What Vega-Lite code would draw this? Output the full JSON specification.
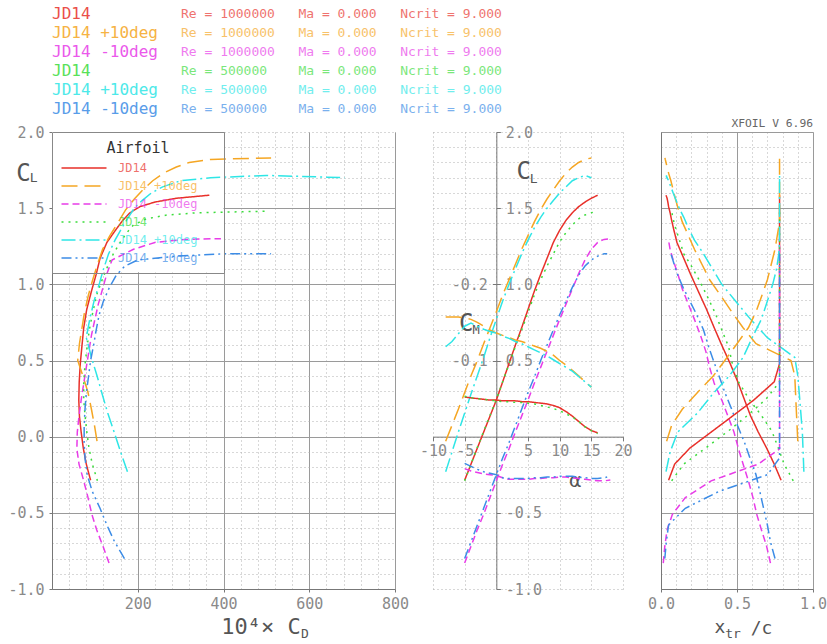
{
  "$schema": "https://vega.github.io/schema/vega-lite/v6.json",
  "background": "white",
  "padding": {"left": 7, "top": 6, "right": 0, "bottom": 0},
  "config": {
    "view": {"stroke": null},
    "font": "DejaVu Sans Mono",
    "axis": {"labelFont": "DejaVu Sans Mono", "labelFontSize": 15, "labelColor": "#8a8a8a", "labelOverlap": false, "labelFlush": false, "titleFont": "DejaVu Sans Mono", "titleColor": "#555555", "titleFontWeight": "normal", "domainColor": "#777777", "tickColor": "#777777", "gridColor": "#9a9a9a", "gridWidth": 1}
  },
  "datasets": {
    "head": [
      {"k": "1", "name": "JD14", "params": "Re = 1000000\u00a0\u00a0\u00a0Ma = 0.000\u00a0\u00a0\u00a0Ncrit = 9.000"},
      {"k": "2", "name": "JD14 +10deg", "params": "Re = 1000000\u00a0\u00a0\u00a0Ma = 0.000\u00a0\u00a0\u00a0Ncrit = 9.000"},
      {"k": "3", "name": "JD14 -10deg", "params": "Re = 1000000\u00a0\u00a0\u00a0Ma = 0.000\u00a0\u00a0\u00a0Ncrit = 9.000"},
      {"k": "4", "name": "JD14", "params": "Re = 500000\u00a0\u00a0\u00a0\u00a0Ma = 0.000\u00a0\u00a0\u00a0Ncrit = 9.000"},
      {"k": "5", "name": "JD14 +10deg", "params": "Re = 500000\u00a0\u00a0\u00a0\u00a0Ma = 0.000\u00a0\u00a0\u00a0Ncrit = 9.000"},
      {"k": "6", "name": "JD14 -10deg", "params": "Re = 500000\u00a0\u00a0\u00a0\u00a0Ma = 0.000\u00a0\u00a0\u00a0Ncrit = 9.000"}
    ],
    "polar": [
      {"k":"1","a":-5,"CL":-0.286,"CD":90,"CM":-0.052,"xt":0.79,"xb":0.05},
      {"k":"1","a":-4,"CL":-0.18,"CD":80,"CM":-0.051,"xt":0.745,"xb":0.09},
      {"k":"1","a":-3,"CL":-0.075,"CD":73,"CM":-0.05,"xt":0.695,"xb":0.19},
      {"k":"1","a":-2,"CL":0.03,"CD":68,"CM":-0.049,"xt":0.64,"xb":0.33},
      {"k":"1","a":-1,"CL":0.135,"CD":64,"CM":-0.048,"xt":0.59,"xb":0.47},
      {"k":"1","a":0,"CL":0.24,"CD":62.5,"CM":-0.048,"xt":0.55,"xb":0.61},
      {"k":"1","a":1,"CL":0.36,"CD":63.5,"CM":-0.047,"xt":0.505,"xb":0.745},
      {"k":"1","a":2,"CL":0.48,"CD":66,"CM":-0.047,"xt":0.455,"xb":0.78},
      {"k":"1","a":3,"CL":0.6,"CD":70,"CM":-0.047,"xt":0.4,"xb":0.78},
      {"k":"1","a":4,"CL":0.715,"CD":74,"CM":-0.046,"xt":0.35,"xb":0.78},
      {"k":"1","a":5,"CL":0.835,"CD":81,"CM":-0.046,"xt":0.3,"xb":0.78},
      {"k":"1","a":6,"CL":0.955,"CD":92,"CM":-0.045,"xt":0.245,"xb":0.78},
      {"k":"1","a":7,"CL":1.065,"CD":103,"CM":-0.044,"xt":0.195,"xb":0.78},
      {"k":"1","a":8,"CL":1.17,"CD":112,"CM":-0.043,"xt":0.15,"xb":0.78},
      {"k":"1","a":9,"CL":1.275,"CD":128,"CM":-0.041,"xt":0.105,"xb":0.78},
      {"k":"1","a":10,"CL":1.355,"CD":148,"CM":-0.038,"xt":0.085,"xb":0.78},
      {"k":"1","a":11,"CL":1.42,"CD":165,"CM":-0.033,"xt":0.07,"xb":0.78},
      {"k":"1","a":12,"CL":1.47,"CD":182,"CM":-0.027,"xt":0.06,"xb":0.78},
      {"k":"1","a":13,"CL":1.51,"CD":205,"CM":-0.02,"xt":0.05,"xb":0.78},
      {"k":"1","a":14,"CL":1.54,"CD":240,"CM":-0.013,"xt":0.045,"xb":0.78},
      {"k":"1","a":15,"CL":1.565,"CD":290,"CM":-0.008,"xt":0.04,"xb":0.78},
      {"k":"1","a":16,"CL":1.585,"CD":367,"CM":-0.005,"xt":0.033,"xb":0.78},

      {"k":"2","a":-8,"CL":-0.03,"CD":105,"CM":-0.157,"xt":0.9,"xb":0.037},
      {"k":"2","a":-7,"CL":0.075,"CD":99,"CM":-0.157,"xt":0.895,"xb":0.07},
      {"k":"2","a":-6,"CL":0.18,"CD":92,"CM":-0.157,"xt":0.89,"xb":0.14},
      {"k":"2","a":-5,"CL":0.29,"CD":84,"CM":-0.156,"xt":0.885,"xb":0.24},
      {"k":"2","a":-4,"CL":0.4,"CD":72,"CM":-0.154,"xt":0.88,"xb":0.345},
      {"k":"2","a":-3,"CL":0.5,"CD":60,"CM":-0.15,"xt":0.855,"xb":0.42},
      {"k":"2","a":-2,"CL":0.61,"CD":64,"CM":-0.145,"xt":0.625,"xb":0.5},
      {"k":"2","a":-1,"CL":0.715,"CD":70,"CM":-0.14,"xt":0.54,"xb":0.575},
      {"k":"2","a":0,"CL":0.82,"CD":76,"CM":-0.136,"xt":0.465,"xb":0.625},
      {"k":"2","a":1,"CL":0.93,"CD":85,"CM":-0.133,"xt":0.39,"xb":0.665},
      {"k":"2","a":2,"CL":1.03,"CD":95,"CM":-0.13,"xt":0.32,"xb":0.7},
      {"k":"2","a":3,"CL":1.13,"CD":106,"CM":-0.127,"xt":0.27,"xb":0.725},
      {"k":"2","a":4,"CL":1.23,"CD":118,"CM":-0.125,"xt":0.22,"xb":0.75},
      {"k":"2","a":5,"CL":1.32,"CD":135,"CM":-0.122,"xt":0.18,"xb":0.765},
      {"k":"2","a":6,"CL":1.41,"CD":155,"CM":-0.119,"xt":0.14,"xb":0.78},
      {"k":"2","a":7,"CL":1.49,"CD":172,"CM":-0.116,"xt":0.115,"xb":0.78},
      {"k":"2","a":8,"CL":1.56,"CD":192,"CM":-0.112,"xt":0.095,"xb":0.78},
      {"k":"2","a":9,"CL":1.62,"CD":212,"CM":-0.107,"xt":0.08,"xb":0.78},
      {"k":"2","a":10,"CL":1.68,"CD":235,"CM":-0.1,"xt":0.065,"xb":0.78},
      {"k":"2","a":11,"CL":1.73,"CD":260,"CM":-0.094,"xt":0.05,"xb":0.78},
      {"k":"2","a":12,"CL":1.77,"CD":290,"CM":-0.087,"xt":0.04,"xb":0.78},
      {"k":"2","a":13,"CL":1.8,"CD":320,"CM":-0.08,"xt":0.033,"xb":0.78},
      {"k":"2","a":14,"CL":1.82,"CD":370,"CM":-0.072,"xt":0.028,"xb":0.78},
      {"k":"2","a":15,"CL":1.83,"CD":511,"CM":-0.065,"xt":0.026,"xb":0.78},

      {"k":"3","a":-5,"CL":-0.83,"CD":133,"CM":0.042,"xt":0.72,"xb":0.015},
      {"k":"3","a":-4,"CL":-0.72,"CD":119,"CM":0.045,"xt":0.695,"xb":0.025},
      {"k":"3","a":-3,"CL":-0.61,"CD":104,"CM":0.047,"xt":0.66,"xb":0.04},
      {"k":"3","a":-2,"CL":-0.51,"CD":93,"CM":0.049,"xt":0.63,"xb":0.075},
      {"k":"3","a":-1,"CL":-0.4,"CD":84,"CM":0.05,"xt":0.605,"xb":0.16},
      {"k":"3","a":0,"CL":-0.29,"CD":74,"CM":0.051,"xt":0.575,"xb":0.33},
      {"k":"3","a":1,"CL":-0.18,"CD":63,"CM":0.054,"xt":0.54,"xb":0.64},
      {"k":"3","a":2,"CL":-0.08,"CD":58,"CM":0.056,"xt":0.51,"xb":0.78},
      {"k":"3","a":3,"CL":0.03,"CD":59,"CM":0.056,"xt":0.48,"xb":0.78},
      {"k":"3","a":4,"CL":0.135,"CD":63,"CM":0.056,"xt":0.44,"xb":0.78},
      {"k":"3","a":5,"CL":0.24,"CD":68,"CM":0.056,"xt":0.4,"xb":0.78},
      {"k":"3","a":6,"CL":0.35,"CD":74,"CM":0.055,"xt":0.35,"xb":0.78},
      {"k":"3","a":7,"CL":0.455,"CD":80,"CM":0.055,"xt":0.32,"xb":0.78},
      {"k":"3","a":8,"CL":0.56,"CD":86,"CM":0.054,"xt":0.295,"xb":0.78},
      {"k":"3","a":9,"CL":0.665,"CD":92,"CM":0.054,"xt":0.26,"xb":0.78},
      {"k":"3","a":10,"CL":0.77,"CD":100,"CM":0.053,"xt":0.22,"xb":0.78},
      {"k":"3","a":11,"CL":0.87,"CD":108,"CM":0.053,"xt":0.18,"xb":0.78},
      {"k":"3","a":12,"CL":0.97,"CD":118,"CM":0.054,"xt":0.14,"xb":0.78},
      {"k":"3","a":13,"CL":1.07,"CD":128,"CM":0.055,"xt":0.11,"xb":0.78},
      {"k":"3","a":14,"CL":1.16,"CD":140,"CM":0.056,"xt":0.08,"xb":0.78},
      {"k":"3","a":15,"CL":1.23,"CD":190,"CM":0.057,"xt":0.06,"xb":0.78},
      {"k":"3","a":16,"CL":1.275,"CD":240,"CM":0.058,"xt":0.052,"xb":0.78},
      {"k":"3","a":17,"CL":1.295,"CD":310,"CM":0.058,"xt":0.05,"xb":0.78},
      {"k":"3","a":18,"CL":1.3,"CD":394,"CM":0.057,"xt":0.048,"xb":0.78},

      {"k":"4","a":-5,"CL":-0.29,"CD":106,"CM":-0.053,"xt":0.87,"xb":0.07},
      {"k":"4","a":-4,"CL":-0.18,"CD":94,"CM":-0.051,"xt":0.81,"xb":0.15},
      {"k":"4","a":-3,"CL":-0.07,"CD":86,"CM":-0.05,"xt":0.77,"xb":0.3},
      {"k":"4","a":-2,"CL":0.035,"CD":81,"CM":-0.049,"xt":0.73,"xb":0.44},
      {"k":"4","a":-1,"CL":0.14,"CD":77,"CM":-0.048,"xt":0.66,"xb":0.57},
      {"k":"4","a":0,"CL":0.245,"CD":74,"CM":-0.047,"xt":0.58,"xb":0.69},
      {"k":"4","a":1,"CL":0.36,"CD":74,"CM":-0.046,"xt":0.51,"xb":0.78},
      {"k":"4","a":2,"CL":0.475,"CD":77,"CM":-0.046,"xt":0.47,"xb":0.78},
      {"k":"4","a":3,"CL":0.59,"CD":82,"CM":-0.045,"xt":0.445,"xb":0.78},
      {"k":"4","a":4,"CL":0.7,"CD":87,"CM":-0.045,"xt":0.4,"xb":0.78},
      {"k":"4","a":5,"CL":0.815,"CD":95,"CM":-0.044,"xt":0.355,"xb":0.78},
      {"k":"4","a":6,"CL":0.93,"CD":104,"CM":-0.043,"xt":0.3,"xb":0.78},
      {"k":"4","a":7,"CL":1.03,"CD":117,"CM":-0.041,"xt":0.25,"xb":0.78},
      {"k":"4","a":8,"CL":1.12,"CD":130,"CM":-0.039,"xt":0.2,"xb":0.78},
      {"k":"4","a":9,"CL":1.2,"CD":143,"CM":-0.037,"xt":0.15,"xb":0.78},
      {"k":"4","a":10,"CL":1.28,"CD":160,"CM":-0.034,"xt":0.125,"xb":0.78},
      {"k":"4","a":11,"CL":1.34,"CD":175,"CM":-0.03,"xt":0.105,"xb":0.78},
      {"k":"4","a":12,"CL":1.39,"CD":190,"CM":-0.026,"xt":0.09,"xb":0.78},
      {"k":"4","a":13,"CL":1.43,"CD":220,"CM":-0.02,"xt":0.08,"xb":0.78},
      {"k":"4","a":14,"CL":1.455,"CD":268,"CM":-0.013,"xt":0.075,"xb":0.78},
      {"k":"4","a":15,"CL":1.47,"CD":340,"CM":-0.008,"xt":0.072,"xb":0.78},
      {"k":"4","a":16,"CL":1.48,"CD":499,"CM":-0.004,"xt":0.07,"xb":0.78},

      {"k":"5","a":-8,"CL":-0.23,"CD":176,"CM":-0.118,"xt":0.94,"xb":0.033},
      {"k":"5","a":-7,"CL":-0.1,"CD":160,"CM":-0.125,"xt":0.935,"xb":0.06},
      {"k":"5","a":-6,"CL":0.03,"CD":145,"CM":-0.135,"xt":0.93,"xb":0.11},
      {"k":"5","a":-5,"CL":0.155,"CD":130,"CM":-0.145,"xt":0.92,"xb":0.24},
      {"k":"5","a":-4,"CL":0.28,"CD":117,"CM":-0.149,"xt":0.91,"xb":0.34},
      {"k":"5","a":-3,"CL":0.4,"CD":105,"CM":-0.145,"xt":0.9,"xb":0.45},
      {"k":"5","a":-2,"CL":0.52,"CD":92,"CM":-0.141,"xt":0.88,"xb":0.54},
      {"k":"5","a":-1,"CL":0.65,"CD":80,"CM":-0.138,"xt":0.7,"xb":0.6},
      {"k":"5","a":0,"CL":0.77,"CD":88,"CM":-0.136,"xt":0.59,"xb":0.66},
      {"k":"5","a":1,"CL":0.89,"CD":98,"CM":-0.132,"xt":0.49,"xb":0.7},
      {"k":"5","a":2,"CL":1.0,"CD":110,"CM":-0.129,"xt":0.4,"xb":0.735},
      {"k":"5","a":3,"CL":1.1,"CD":120,"CM":-0.125,"xt":0.34,"xb":0.76},
      {"k":"5","a":4,"CL":1.2,"CD":132,"CM":-0.122,"xt":0.28,"xb":0.775},
      {"k":"5","a":5,"CL":1.29,"CD":147,"CM":-0.118,"xt":0.22,"xb":0.78},
      {"k":"5","a":6,"CL":1.37,"CD":163,"CM":-0.114,"xt":0.18,"xb":0.78},
      {"k":"5","a":7,"CL":1.44,"CD":178,"CM":-0.11,"xt":0.15,"xb":0.78},
      {"k":"5","a":8,"CL":1.5,"CD":192,"CM":-0.106,"xt":0.12,"xb":0.78},
      {"k":"5","a":9,"CL":1.55,"CD":210,"CM":-0.101,"xt":0.1,"xb":0.78},
      {"k":"5","a":10,"CL":1.6,"CD":232,"CM":-0.096,"xt":0.08,"xb":0.78},
      {"k":"5","a":11,"CL":1.64,"CD":258,"CM":-0.091,"xt":0.065,"xb":0.78},
      {"k":"5","a":12,"CL":1.68,"CD":300,"CM":-0.086,"xt":0.05,"xb":0.78},
      {"k":"5","a":13,"CL":1.7,"CD":370,"CM":-0.079,"xt":0.04,"xb":0.78},
      {"k":"5","a":14,"CL":1.715,"CD":500,"CM":-0.072,"xt":0.035,"xb":0.78},
      {"k":"5","a":15,"CL":1.7,"CD":682,"CM":-0.065,"xt":0.037,"xb":0.78},

      {"k":"6","a":-5,"CL":-0.8,"CD":169,"CM":0.035,"xt":0.75,"xb":0.025},
      {"k":"6","a":-4,"CL":-0.69,"CD":146,"CM":0.039,"xt":0.72,"xb":0.035},
      {"k":"6","a":-3,"CL":-0.58,"CD":128,"CM":0.043,"xt":0.7,"xb":0.05},
      {"k":"6","a":-2,"CL":-0.47,"CD":112,"CM":0.046,"xt":0.675,"xb":0.16},
      {"k":"6","a":-1,"CL":-0.36,"CD":94,"CM":0.048,"xt":0.65,"xb":0.38},
      {"k":"6","a":0,"CL":-0.25,"CD":82,"CM":0.05,"xt":0.625,"xb":0.7},
      {"k":"6","a":1,"CL":-0.14,"CD":77,"CM":0.054,"xt":0.585,"xb":0.78},
      {"k":"6","a":2,"CL":-0.04,"CD":75,"CM":0.055,"xt":0.55,"xb":0.78},
      {"k":"6","a":3,"CL":0.07,"CD":75,"CM":0.055,"xt":0.505,"xb":0.78},
      {"k":"6","a":4,"CL":0.18,"CD":77,"CM":0.055,"xt":0.465,"xb":0.78},
      {"k":"6","a":5,"CL":0.29,"CD":80,"CM":0.055,"xt":0.42,"xb":0.78},
      {"k":"6","a":6,"CL":0.39,"CD":85,"CM":0.054,"xt":0.385,"xb":0.78},
      {"k":"6","a":7,"CL":0.5,"CD":90,"CM":0.054,"xt":0.345,"xb":0.78},
      {"k":"6","a":8,"CL":0.6,"CD":97,"CM":0.053,"xt":0.31,"xb":0.78},
      {"k":"6","a":9,"CL":0.7,"CD":103,"CM":0.053,"xt":0.28,"xb":0.78},
      {"k":"6","a":10,"CL":0.8,"CD":110,"CM":0.052,"xt":0.235,"xb":0.78},
      {"k":"6","a":11,"CL":0.89,"CD":120,"CM":0.052,"xt":0.19,"xb":0.78},
      {"k":"6","a":12,"CL":0.98,"CD":134,"CM":0.052,"xt":0.145,"xb":0.78},
      {"k":"6","a":13,"CL":1.06,"CD":150,"CM":0.053,"xt":0.11,"xb":0.78},
      {"k":"6","a":14,"CL":1.12,"CD":170,"CM":0.054,"xt":0.09,"xb":0.78},
      {"k":"6","a":15,"CL":1.16,"CD":200,"CM":0.055,"xt":0.078,"xb":0.78},
      {"k":"6","a":16,"CL":1.185,"CD":290,"CM":0.055,"xt":0.07,"xb":0.78},
      {"k":"6","a":17,"CL":1.2,"CD":400,"CM":0.054,"xt":0.065,"xb":0.78},
      {"k":"6","a":17.5,"CL":1.2,"CD":511,"CM":0.053,"xt":0.065,"xb":0.78}
    ]
  },
  "bounds": "flush",
  "spacing": 23,
  "resolve": {"legend": {"color": "independent", "strokeDash": "independent"}},
  "vconcat": [
    {
      "width": 129,
      "height": 95,
      "data": {"name": "head"},
      "transform": [{"fold": ["name", "params"], "as": ["part", "txt"]}],
      "encoding": {
        "x": {"field": "part", "type": "nominal", "scale": {"type": "point", "padding": 0, "domain": ["name", "params"]}, "axis": null},
        "y": {"field": "k", "type": "ordinal", "scale": {"type": "point", "padding": 0, "domain": ["1","2","3","4","5","6"]}, "axis": null},
        "color": {"field": "k", "type": "nominal", "scale": {"domain": ["1","2","3","4","5","6"], "range": ["#e8302a","#f5a623","#e83ce8","#3cdc3c","#2ee6e6","#3c8ce6"]}, "legend": null},
        "text": {"field": "txt", "type": "nominal"}
      },
      "layer": [
        {"transform": [{"filter": "datum.part == 'name'"}], "mark": {"type": "text", "align": "left", "baseline": "middle", "fontSize": 16, "font": "DejaVu Sans Mono", "opacity": 0.85}},
        {"transform": [{"filter": "datum.part == 'params'"}], "mark": {"type": "text", "align": "left", "baseline": "middle", "fontSize": 13, "font": "DejaVu Sans Mono", "opacity": 0.68}}
      ]
    },
    {
      "bounds": "flush",
      "spacing": 38,
      "resolve": {"legend": {"color": "independent", "strokeDash": "independent"}},
      "hconcat": [
        {
          "width": 343,
          "height": 457,
          "data": {"name": "polar"},
          "resolve": {"axis": {"x": "independent", "y": "independent"}},
          "layer": [
            {
              "mark": {"type": "point", "opacity": 0},
              "encoding": {
                "x": {"field": "CD", "type": "quantitative", "scale": {"domain": [0, 800], "nice": false, "zero": false},
                  "axis": {"orient": "bottom", "grid": true, "gridDash": [1, 3], "gridColor": "#b0b0b0", "values": [0,40,80,120,160,200,240,280,320,360,400,440,480,520,560,600,640,680,720,760,800], "labels": false, "ticks": false, "domain": false,
                    "title": "D", "titleFontSize": 13, "titleX": 252.5, "titleY": 48, "titleAlign": "center", "titleBaseline": "alphabetic"}},
                "y": {"field": "CL", "type": "quantitative", "scale": {"domain": [-1, 2], "nice": false, "zero": false},
                  "axis": {"orient": "left", "grid": true, "gridDash": [1, 3], "gridColor": "#b0b0b0", "values": [-1,-0.9,-0.8,-0.7,-0.6,-0.5,-0.4,-0.3,-0.2,-0.1,0,0.1,0.2,0.3,0.4,0.5,0.6,0.7,0.8,0.9,1,1.1,1.2,1.3,1.4,1.5,1.6,1.7,1.8,1.9,2], "labels": false, "ticks": false, "domain": false,
                    "title": "L", "titleFontSize": 13, "titleX": -18.8, "titleY": 49.7, "titleAngle": 0, "titleAlign": "center", "titleBaseline": "alphabetic"}}
              }
            },
            {
              "mark": {"type": "point", "opacity": 0},
              "encoding": {
                "x": {"field": "CD", "type": "quantitative", "scale": {"domain": [0, 800], "nice": false, "zero": false},
                  "axis": {"orient": "bottom", "grid": true, "values": [200, 400, 600, 800], "labels": false, "ticks": false, "domain": false, "title": null}},
                "y": {"field": "CL", "type": "quantitative", "scale": {"domain": [-1, 2], "nice": false, "zero": false},
                  "axis": {"orient": "left", "grid": true, "values": [-0.5, 0, 0.5, 1, 1.5], "labels": false, "ticks": false, "domain": false, "title": null}}
              }
            },
            {
              "data": {"values": [{}]},
              "mark": {"type": "rect", "fill": "white", "strokeWidth": 0},
              "encoding": {
                "x": {"datum": 0, "type": "quantitative", "scale": {"domain": [0, 800], "nice": false, "zero": false}, "axis": null},
                "x2": {"datum": 400},
                "y": {"datum": 1.08, "type": "quantitative", "scale": {"domain": [-1, 2], "nice": false, "zero": false}, "axis": null},
                "y2": {"datum": 2}
              }
            },
            {
              "mark": {"type": "line", "strokeWidth": 1.5},
              "encoding": {
                "x": {"field": "CD", "type": "quantitative", "scale": {"domain": [0, 800], "nice": false, "zero": false},
                  "axis": {"orient": "bottom", "grid": false, "values": [200, 400, 600, 800], "tickSize": 3, "labelPadding": 4, "domain": true,
                    "title": "10\u2074\u00d7 C", "titleFontSize": 22, "titleX": 208.5, "titleY": 44, "titleAlign": "center", "titleBaseline": "alphabetic"}},
                "y": {"field": "CL", "type": "quantitative", "scale": {"domain": [-1, 2], "nice": false, "zero": false},
                  "axis": {"orient": "left", "grid": false, "values": [-1, -0.5, 0, 0.5, 1, 1.5, 2], "labelExpr": "(datum.value < 0 ? '-' : '') + format(abs(datum.value), '.1f')", "tickSize": 3, "labelPadding": 5, "domain": true,
                    "title": "C", "titleFontSize": 24, "titleX": -29, "titleY": 48, "titleAngle": 0, "titleAlign": "center", "titleBaseline": "alphabetic"}},
                "color": {"field": "k", "type": "nominal", "scale": {"domain": ["1","2","3","4","5","6"], "range": ["#e8302a","#f5a623","#e83ce8","#3cdc3c","#2ee6e6","#3c8ce6"]},
                  "legend": {
                    "orient": "top-left", "offset": 0, "title": "Airfoil", "titleFont": "DejaVu Sans Mono", "titleFontSize": 15, "titleFontWeight": "normal", "titleColor": "#333333", "titleAnchor": "middle", "titlePadding": 6,
                    "strokeColor": "#888888", "padding": 9,
                    "symbolType": "M-5,0L5,0M28.4,0", "symbolSize": 81, "symbolStrokeWidth": 1.5, "symbolOffset": 17,
                    "labelFont": "DejaVu Sans Mono", "labelFontSize": 12, "labelOffset": 28, "rowPadding": 6,
                    "labelExpr": "['JD14','JD14 +10deg','JD14 -10deg','JD14','JD14 +10deg','JD14 -10deg'][toNumber(datum.label) - 1]",
                    "encode": {"labels": {"update": {"fill": {"scale": "color", "field": "value"}, "fillOpacity": {"value": 0.7}}}}
                  }},
                "strokeDash": {"field": "k", "type": "nominal", "scale": {"domain": ["1","2","3","4","5","6"], "range": [[1,0],[16,7],[7,4],[2,5],[14,4,2,4],[10,4,2,4,2,4]]},
                  "legend": {
                    "orient": "top-left", "offset": 0, "title": "Airfoil", "titleFont": "DejaVu Sans Mono", "titleFontSize": 15, "titleFontWeight": "normal", "titleColor": "#333333", "titleAnchor": "middle", "titlePadding": 6,
                    "strokeColor": "#888888", "padding": 9,
                    "symbolType": "M-5,0L5,0M28.4,0", "symbolSize": 81, "symbolStrokeWidth": 1.5, "symbolOffset": 17,
                    "labelFont": "DejaVu Sans Mono", "labelFontSize": 12, "labelOffset": 28, "rowPadding": 6,
                    "labelExpr": "['JD14','JD14 +10deg','JD14 -10deg','JD14','JD14 +10deg','JD14 -10deg'][toNumber(datum.label) - 1]"
                  }},
                "order": {"field": "a", "type": "quantitative"}
              }
            }
          ]
        },
        {
          "width": 190,
          "height": 457,
          "data": {"name": "polar"},
          "resolve": {"scale": {"y": "independent"}, "axis": {"x": "independent", "y": "independent"}},
          "layer": [
            {
              "mark": {"type": "point", "opacity": 0},
              "encoding": {
                "x": {"field": "a", "type": "quantitative", "scale": {"domain": [-10, 20], "nice": false, "zero": false},
                  "axis": {"orient": "bottom", "grid": true, "gridDash": [1, 3], "gridColor": "#b0b0b0", "values": [-10, -5, 0, 5, 10, 15, 20], "labels": false, "ticks": false, "domain": false,
                    "title": "M", "titleFontSize": 12, "titleX": 42.7, "titleY": -256, "titleAlign": "center", "titleBaseline": "alphabetic"}},
                "y": {"field": "CL", "type": "quantitative", "scale": {"domain": [-1, 2], "nice": false, "zero": false},
                  "axis": {"orient": "left", "grid": true, "gridDash": [1, 3], "gridColor": "#b0b0b0", "values": [-1,-0.9,-0.8,-0.7,-0.6,-0.5,-0.4,-0.3,-0.2,-0.1,0,0.1,0.2,0.3,0.4,0.5,0.6,0.7,0.8,0.9,1,1.1,1.2,1.3,1.4,1.5,1.6,1.7,1.8,1.9,2], "labels": false, "ticks": false, "domain": false,
                    "title": "L", "titleFontSize": 13, "titleX": 100.2, "titleY": 50, "titleAngle": 0, "titleAlign": "center", "titleBaseline": "alphabetic"}}
              }
            },
            {
              "mark": {"type": "line", "strokeWidth": 1.5},
              "encoding": {
                "x": {"field": "a", "type": "quantitative", "scale": {"domain": [-10, 20], "nice": false, "zero": false},
                  "axis": {"orient": "bottom", "offset": -152.33, "grid": false, "values": [-10, -5, 0, 5, 10, 15, 20], "labelExpr": "datum.value == 0 ? '' : (datum.value < 0 ? '-' : '') + format(abs(datum.value), 'd')", "tickSize": 4, "labelPadding": 3, "domain": true,
                    "title": "\u03b1", "titleFontSize": 20, "titleX": 141.7, "titleY": 44, "titleAlign": "center", "titleBaseline": "middle"}},
                "y": {"field": "CL", "type": "quantitative", "scale": {"domain": [-1, 2], "nice": false, "zero": false},
                  "axis": {"orient": "right", "offset": -126.67, "grid": false, "values": [-1, -0.5, 0.5, 1, 1.5, 2], "labelExpr": "(datum.value < 0 ? '-' : '') + format(abs(datum.value), '.1f')", "tickSize": 4, "labelPadding": 5, "domain": true,
                    "title": "C", "titleFontSize": 24, "titleX": 26.8, "titleY": 46, "titleAngle": 0, "titleAlign": "center", "titleBaseline": "alphabetic"}},
                "color": {"field": "k", "type": "nominal", "scale": {"domain": ["1","2","3","4","5","6"], "range": ["#e8302a","#f5a623","#e83ce8","#3cdc3c","#2ee6e6","#3c8ce6"]}, "legend": null},
                "strokeDash": {"field": "k", "type": "nominal", "scale": {"domain": ["1","2","3","4","5","6"], "range": [[1,0],[16,7],[7,4],[2,5],[14,4,2,4],[10,4,2,4,2,4]]}, "legend": null},
                "order": {"field": "a", "type": "quantitative"}
              }
            },
            {
              "mark": {"type": "line", "strokeWidth": 1.5},
              "encoding": {
                "x": {"field": "a", "type": "quantitative", "scale": {"domain": [-10, 20], "nice": false, "zero": false}, "axis": null},
                "y": {"field": "CM", "type": "quantitative", "scale": {"domain": [-0.4, 0.2], "reverse": true, "nice": false, "zero": false},
                  "axis": {"orient": "left", "offset": -63.33, "grid": false, "values": [-0.2, -0.1], "labelExpr": "(datum.value < 0 ? '-' : '') + format(abs(datum.value), '.1f')", "tickSize": 4, "labelPadding": 5, "domain": false,
                    "title": "C", "titleFontSize": 24, "titleX": -30.7, "titleY": 198, "titleAngle": 0, "titleAlign": "center", "titleBaseline": "alphabetic"}},
                "color": {"field": "k", "type": "nominal", "scale": {"domain": ["1","2","3","4","5","6"], "range": ["#e8302a","#f5a623","#e83ce8","#3cdc3c","#2ee6e6","#3c8ce6"]}, "legend": null},
                "strokeDash": {"field": "k", "type": "nominal", "scale": {"domain": ["1","2","3","4","5","6"], "range": [[1,0],[16,7],[7,4],[2,5],[14,4,2,4],[10,4,2,4,2,4]]}, "legend": null},
                "order": {"field": "a", "type": "quantitative"}
              }
            }
          ]
        },
        {
          "width": 152,
          "height": 457,
          "title": {"text": "XFOIL V 6.96", "anchor": "end", "frame": "group", "fontSize": 11.3, "font": "DejaVu Sans Mono", "fontWeight": "normal", "color": "#666666", "offset": 3},
          "data": {"name": "polar"},
          "resolve": {"axis": {"x": "independent", "y": "independent"}},
          "layer": [
            {
              "mark": {"type": "point", "opacity": 0},
              "encoding": {
                "x": {"field": "xt", "type": "quantitative", "scale": {"domain": [0, 1], "nice": false, "zero": false},
                  "axis": {"orient": "bottom", "grid": true, "gridDash": [1, 3], "gridColor": "#b0b0b0", "values": [0,0.1,0.2,0.3,0.4,0.5,0.6,0.7,0.8,0.9,1], "labels": false, "ticks": false, "domain": false,
                    "title": "tr", "titleFontSize": 13, "titleX": 71.5, "titleY": 48, "titleAlign": "center", "titleBaseline": "alphabetic"}},
                "y": {"field": "CL", "type": "quantitative", "scale": {"domain": [-1, 2], "nice": false, "zero": false},
                  "axis": {"orient": "left", "grid": true, "gridDash": [1, 3], "gridColor": "#b0b0b0", "values": [-1,-0.9,-0.8,-0.7,-0.6,-0.5,-0.4,-0.3,-0.2,-0.1,0,0.1,0.2,0.3,0.4,0.5,0.6,0.7,0.8,0.9,1,1.1,1.2,1.3,1.4,1.5,1.6,1.7,1.8,1.9,2], "labels": false, "ticks": false, "domain": false, "title": null}}
              }
            },
            {
              "mark": {"type": "line", "strokeWidth": 1.5},
              "encoding": {
                "x": {"field": "xt", "type": "quantitative", "scale": {"domain": [0, 1], "nice": false, "zero": false},
                  "axis": {"orient": "bottom", "grid": true, "values": [0, 0.5, 1], "format": ".1f", "tickSize": 3, "labelPadding": 4, "domain": true,
                    "title": "x", "titleFontSize": 18, "titleX": 58.5, "titleY": 43, "titleAlign": "center", "titleBaseline": "alphabetic"}},
                "y": {"field": "CL", "type": "quantitative", "scale": {"domain": [-1, 2], "nice": false, "zero": false},
                  "axis": {"orient": "left", "grid": true, "values": [-1, -0.5, 0, 0.5, 1, 1.5, 2], "labels": false, "ticks": false, "domain": true, "title": null}},
                "color": {"field": "k", "type": "nominal", "scale": {"domain": ["1","2","3","4","5","6"], "range": ["#e8302a","#f5a623","#e83ce8","#3cdc3c","#2ee6e6","#3c8ce6"]}, "legend": null},
                "strokeDash": {"field": "k", "type": "nominal", "scale": {"domain": ["1","2","3","4","5","6"], "range": [[1,0],[16,7],[7,4],[2,5],[14,4,2,4],[10,4,2,4,2,4]]}, "legend": null},
                "order": {"field": "a", "type": "quantitative"}
              }
            },
            {
              "mark": {"type": "line", "strokeWidth": 1.5},
              "encoding": {
                "x": {"field": "xb", "type": "quantitative", "scale": {"domain": [0, 1], "nice": false, "zero": false},
                  "axis": {"orient": "bottom", "grid": false, "labels": false, "ticks": false, "domain": false,
                    "title": "/c", "titleFontSize": 18, "titleX": 100, "titleY": 44, "titleAlign": "center", "titleBaseline": "alphabetic"}},
                "y": {"field": "CL", "type": "quantitative", "scale": {"domain": [-1, 2], "nice": false, "zero": false}, "axis": null},
                "color": {"field": "k", "type": "nominal", "scale": {"domain": ["1","2","3","4","5","6"], "range": ["#e8302a","#f5a623","#e83ce8","#3cdc3c","#2ee6e6","#3c8ce6"]}, "legend": null},
                "strokeDash": {"field": "k", "type": "nominal", "scale": {"domain": ["1","2","3","4","5","6"], "range": [[1,0],[16,7],[7,4],[2,5],[14,4,2,4],[10,4,2,4,2,4]]}, "legend": null},
                "order": {"field": "a", "type": "quantitative"}
              }
            }
          ]
        }
      ]
    }
  ]
}
